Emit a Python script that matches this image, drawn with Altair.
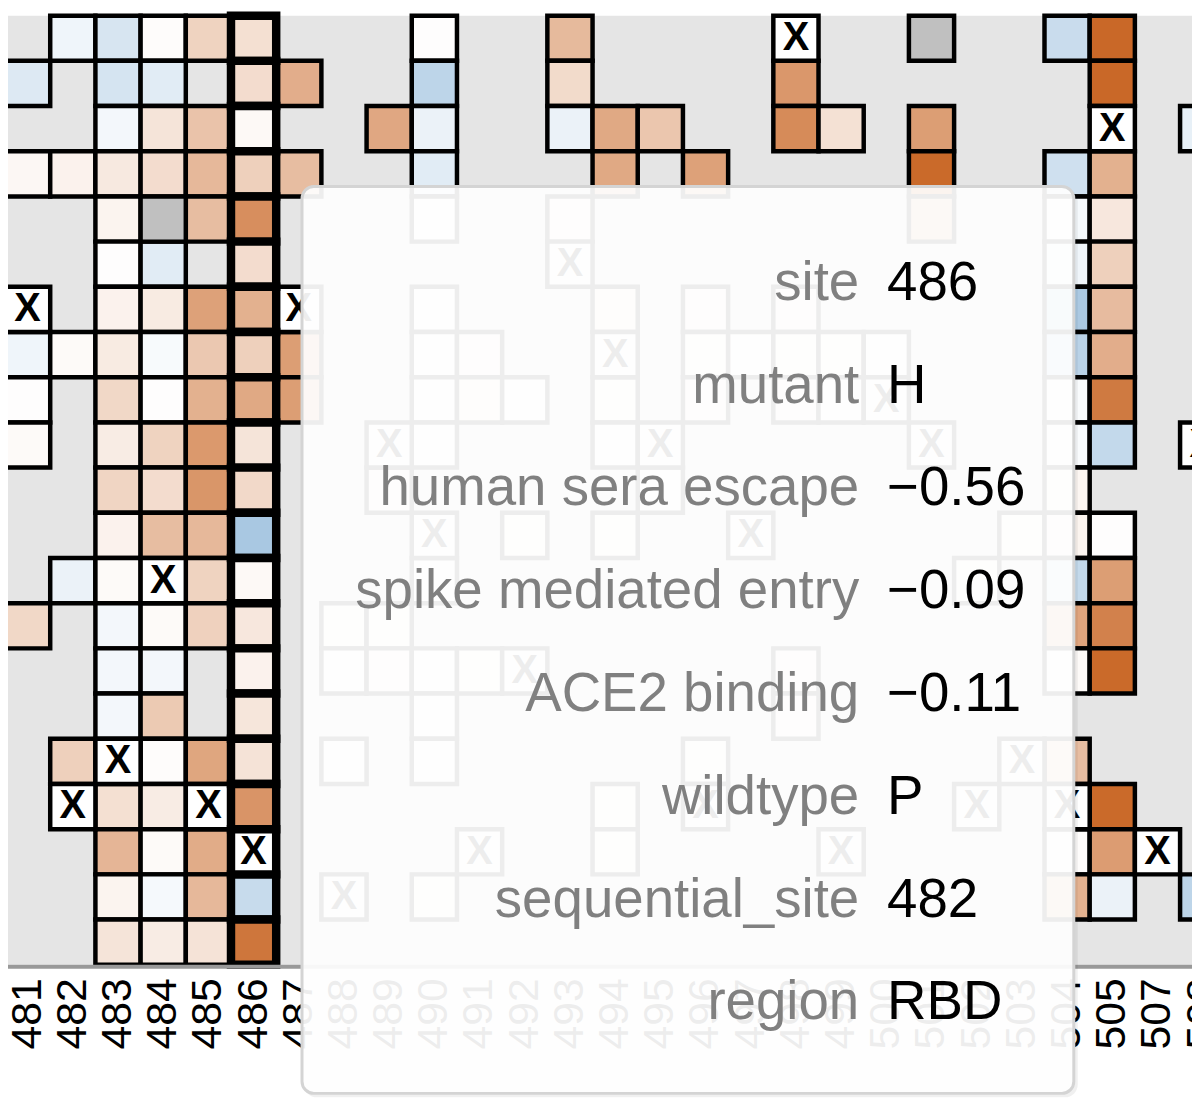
import altair as alt
import pandas as pd

N = None      # no measurement
WT = "wt"     # wildtype cell (drawn white with an X)
NA = "na"     # measured but filtered (grey cell)

mutants = ["R", "K", "H", "D", "E", "Q", "N", "S", "T", "Y", "W",
           "F", "A", "I", "L", "M", "V", "G", "P", "C", "*"]

sites = ["480", "481", "482", "483", "484", "485", "486", "487", "488", "489",
         "490", "491", "492", "493", "494", "495", "496", "497", "498", "499",
         "500", "501", "502", "503", "504", "505", "507", "508"]

selected_site = "486"

# effect per mutant, in the order of `mutants`
effect_480 = [N, 0.1, 0.05, -0.1, N, 0.1, N, 0.3, 0.05, N, N, N, N, N, 0.05, N, N, N, 0.1, WT, N]
effect_481 = [N, -0.17, N, 0.05, N, N, WT, -0.08, 0.01, 0.03, N, N, N, 0.25, N, N, N, N, N, N, N]
effect_482 = [-0.08, N, N, 0.08, N, N, N, 0.03, N, N, N, N, -0.1, N, N, N, 0.3, WT, N, N, N]
effect_483 = [-0.2, -0.21, -0.06, 0.14, 0.07, 0.01, 0.08, 0.13, 0.25, 0.12, 0.27, 0.08, 0.03, -0.06, -0.06, -0.06, WT, 0.2, 0.47, 0.07, 0.17]
effect_484 = [0.02, -0.15, 0.17, 0.22, NA, -0.15, 0.13, -0.04, 0.01, 0.28, 0.22, 0.42, WT, 0.03, -0.06, 0.34, 0.02, 0.12, 0.03, -0.05, 0.12]
effect_485 = [0.28, N, 0.38, 0.45, 0.42, N, 0.6, 0.35, 0.5, 0.65, 0.67, 0.45, 0.28, 0.29, N, N, 0.57, WT, 0.53, 0.45, 0.18]
effect_486 = [0.2, 0.22, 0.04, 0.3, 0.72, 0.22, 0.5, 0.3, 0.55, 0.17, 0.24, -0.43, 0.04, 0.15, 0.08, 0.16, 0.18, 0.68, WT, -0.28, 0.87]
effect_487 = [N, 0.52, N, 0.42, N, N, WT, 0.62, 0.62, N, N, N, N, N, N, N, N, N, N, N, N]
effect_488 = [N, N, N, N, N, N, N, N, N, N, N, N, N, 0.05, 0.02, N, 0.03, N, N, WT, N]
effect_489 = [N, N, 0.56, N, N, N, N, N, N, WT, 0.1, N, N, 0.05, 0.08, N, N, N, N, N, N]
effect_490 = [0.01, -0.33, -0.1, -0.15, 0.02, N, 0.01, 0.02, 0.03, 0.02, N, WT, 0.02, N, 0.03, 0.02, 0.02, N, N, 0.05, N]
effect_491 = [N, N, N, N, N, N, N, 0.1, 0.12, N, N, N, N, N, 0.05, N, N, N, WT, N, N]
effect_492 = [N, N, N, N, N, N, N, N, 0.02, N, N, 0.05, N, N, WT, N, N, N, N, N, N]
effect_493 = [0.44, 0.23, -0.1, N, 0.1, WT, N, N, N, N, N, N, N, N, N, N, N, N, N, N, N]
effect_494 = [N, N, 0.55, 0.55, N, N, 0.15, WT, 0.05, 0.03, N, 0.05, N, N, N, N, N, 0.05, 0.05, N, N]
effect_495 = [N, N, 0.36, N, N, N, N, N, N, WT, 0.04, N, N, N, N, N, N, N, N, N, N]
effect_496 = [N, N, N, 0.6, N, N, 0.1, 0.05, 0.08, N, N, N, N, N, N, N, 0.05, WT, N, N, N]
effect_497 = [N, N, N, N, N, N, N, 0.03, N, N, N, WT, N, N, N, N, N, N, N, N, N]
effect_498 = [WT, 0.66, 0.74, N, N, N, 0.1, 0.05, 0.08, N, N, N, N, N, 0.08, 0.1, N, N, N, N, N]
effect_499 = [N, N, 0.19, N, N, N, N, 0.05, 0.03, N, N, N, N, N, N, N, N, N, WT, N, N]
effect_500 = [N, N, N, N, N, N, N, 0.02, WT, N, N, N, N, N, N, N, N, N, N, N, N]
effect_501 = [NA, N, 0.62, 0.95, 0.5, N, N, N, N, WT, N, N, N, N, N, N, N, N, N, N, N]
effect_502 = [N, N, N, N, N, N, N, N, N, N, N, N, 0.05, N, N, N, N, WT, N, N, N]
effect_503 = [N, N, N, N, N, N, N, N, N, N, N, 0.05, N, N, N, N, WT, N, N, N, N]
effect_504 = [-0.27, N, N, -0.24, -0.05, -0.08, -0.42, -0.35, -0.03, -0.03, 0.06, 0.07, -0.3, 0.58, 0.03, N, 0.42, WT, 0.02, 0.5, N]
effect_505 = [0.96, 0.96, WT, 0.5, 0.15, 0.3, 0.43, 0.52, 0.85, -0.3, N, 0.01, 0.62, 0.8, 0.95, N, N, 0.95, 0.63, -0.1, N]
effect_507 = [N, N, N, N, N, N, N, N, N, N, N, N, N, N, N, N, N, N, WT, N, N]
effect_508 = [N, N, -0.12, N, N, N, N, N, N, WT, N, N, N, N, N, N, N, N, N, -0.33, N]

columns = [effect_480, effect_481, effect_482, effect_483, effect_484, effect_485,
           effect_486, effect_487, effect_488, effect_489, effect_490, effect_491,
           effect_492, effect_493, effect_494, effect_495, effect_496, effect_497,
           effect_498, effect_499, effect_500, effect_501, effect_502, effect_503,
           effect_504, effect_505, effect_507, effect_508]

tooltip_keys = ["site", "mutant", "human sera escape", "spike mediated entry",
                "ACE2 binding", "wildtype", "sequential_site", "region"]
tooltip_values = ["486", "H", "\u22120.56", "\u22120.09", "\u22120.11", "P", "482", "RBD"]

records = []
for site, col in zip(sites, columns):
    for aa, v in zip(mutants, col):
        if v is None:
            continue
        if v == WT:
            records.append({"site": site, "mutant": aa, "kind": "wt", "value": None})
        elif v == NA:
            records.append({"site": site, "mutant": aa, "kind": "na", "value": None})
        else:
            records.append({"site": site, "mutant": aa, "kind": "val", "value": v})
df = pd.DataFrame(records)

xs = alt.X("site:O",
           scale=alt.Scale(domain=sites, range=[-48.5, 1225.5], paddingInner=0, paddingOuter=0),
           axis=None)
ys = alt.Y("mutant:O", scale=alt.Scale(domain=mutants, paddingInner=0, paddingOuter=0), axis=None)
color = alt.Color("value:Q", legend=None,
                  scale=alt.Scale(domain=[-1, 0, 1], range=["#377fbb", "#ffffff", "#c7621f"],
                                  interpolate="rgb"))

base = alt.Chart(df)
sel = f"datum.site == '{selected_site}'"
nsel = f"datum.site != '{selected_site}'"

cells_val = base.transform_filter(f"datum.kind == 'val' && {nsel}").mark_rect(
    stroke="black", strokeWidth=4.5).encode(x=xs, y=ys, color=color)
cells_wt = base.transform_filter(f"datum.kind == 'wt' && {nsel}").mark_rect(
    fill="white", stroke="black", strokeWidth=4.5).encode(x=xs, y=ys)
cells_na = base.transform_filter("datum.kind == 'na'").mark_rect(
    fill="#c0c0c0", stroke="black", strokeWidth=4.5).encode(x=xs, y=ys)
sel_val = base.transform_filter(f"datum.kind == 'val' && {sel}").mark_rect(
    stroke="black", strokeWidth=8.5).encode(x=xs, y=ys, color=color)
sel_wt = base.transform_filter(f"datum.kind == 'wt' && {sel}").mark_rect(
    fill="white", stroke="black", strokeWidth=8.5).encode(x=xs, y=ys)
x_text = base.transform_filter("datum.kind == 'wt'").mark_text(
    text="X", font="Liberation Sans", fontSize=40, fontWeight="bold", color="black",
    align="center", baseline="middle").encode(x=xs, y=ys)

# site axis (drawn as marks so that the tooltip box can sit on top of it)
site_df = pd.DataFrame({"site": sites})
one = pd.DataFrame({"a": [0]})
axis_line = alt.Chart(one).mark_rule(color="#999999", strokeWidth=4).encode(
    x=alt.value(0), x2=alt.value(1192), y=alt.value(957.5))
axis_labels = alt.Chart(site_df).mark_text(
    angle=270, align="right", baseline="middle", font="Liberation Sans",
    fontSize=43, color="black").encode(x=xs, y=alt.value(969), text="site:N")

heat = alt.layer(cells_val, cells_wt, cells_na, sel_val, sel_wt, x_text, axis_line, axis_labels)

shadow = alt.Chart(one).mark_rect(fill="black", opacity=0.06, cornerRadius=13).encode(
    x=alt.value(298), x2=alt.value(1077), y=alt.value(174), y2=alt.value(1089))
box = alt.Chart(one).mark_rect(fill="white", fillOpacity=0.93, stroke="#d4d4d4",
                               strokeWidth=3, cornerRadius=12).encode(
    x=alt.value(296), x2=alt.value(1073), y=alt.value(172), y2=alt.value(1085))

tt = pd.DataFrame({"key": tooltip_keys, "value": tooltip_values, "row": list(range(len(tooltip_keys)))})
ty = alt.Y("row:Q", scale=alt.Scale(domain=[0, 7], range=[286, 1010.5], nice=False, zero=False), axis=None)
key_text = alt.Chart(tt).mark_text(align="right", baseline="alphabetic", font="Liberation Sans",
                                   fontSize=55, color="#808080").encode(
    x=alt.value(857), y=ty, text="key:N")
val_text = alt.Chart(tt).mark_text(align="left", baseline="alphabetic", font="Liberation Sans",
                                   fontSize=55, color="black").encode(
    x=alt.value(885), y=ty, text="value:N")

tip = alt.layer(shadow, box, key_text, val_text)

chart = alt.layer(heat, tip).resolve_scale(y="independent").properties(
    width=1192, height=955.5, autosize="none",
    padding={"left": 0, "top": 4, "right": 0, "bottom": 140}
).configure_view(fill="#e5e5e5", strokeWidth=0)

chart.save("out.html", embed_options={"renderer": "svg", "actions": False})
